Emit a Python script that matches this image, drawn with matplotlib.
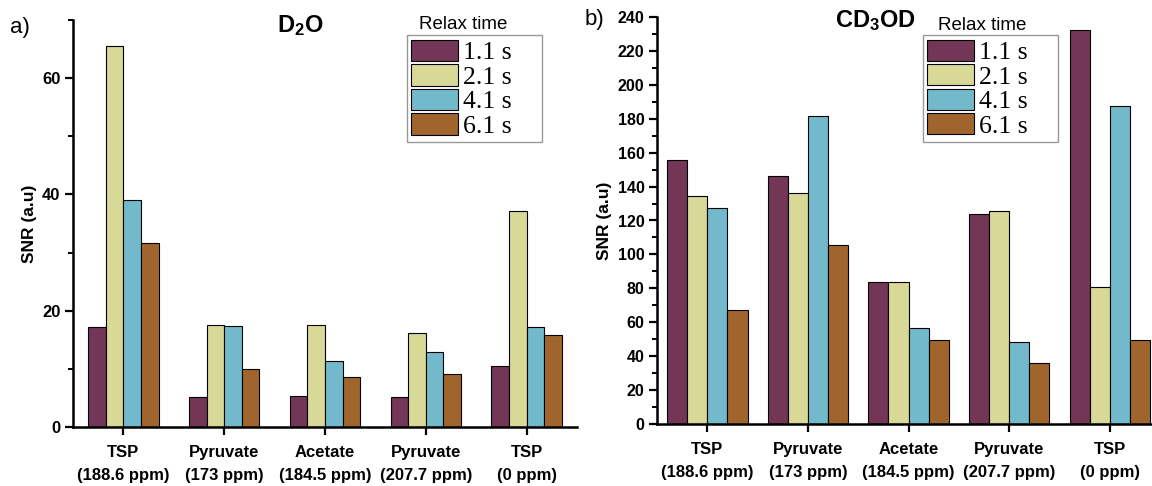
import matplotlib
matplotlib.use("Agg")
import matplotlib.pyplot as plt
import numpy as np

plt.rcParams['font.family'] = ['Liberation Sans', 'DejaVu Sans']
plt.rcParams['mathtext.fontset'] = 'custom'
plt.rcParams['mathtext.rm'] = 'Liberation Sans:bold'
plt.rcParams['mathtext.bf'] = 'Liberation Sans:bold'
plt.rcParams['mathtext.it'] = 'Liberation Sans:bold'

categories = ["TSP\n(188.6 ppm)", "Pyruvate\n(173 ppm)", "Acetate\n(184.5 ppm)",
              "Pyruvate\n(207.7 ppm)", "TSP\n(0 ppm)"]
relax_labels = ["1.1 s", "2.1 s", "4.1 s", "6.1 s"]
colors = ["#733656", "#d8d897", "#72b9cc", "#a0652c"]

# D2O panel
d2o_11 = [17.2, 5.1, 5.4, 5.1, 10.5]
d2o_21 = [65.6, 17.5, 17.5, 16.1, 37.2]
d2o_41 = [39.1, 17.4, 11.4, 12.9, 17.2]
d2o_61 = [31.7, 9.9, 8.6, 9.2, 15.9]

# CD3OD panel
cd3od_11 = [155.5, 146.5, 83.5, 124.0, 232.5]
cd3od_21 = [134.5, 136.5, 84.0, 125.5, 80.5]
cd3od_41 = [127.5, 181.5, 56.5, 48.2, 187.5]
cd3od_61 = [67.0, 105.5, 49.3, 36.2, 49.5]

W, H = 1152, 486
fig = plt.figure(figsize=(W / 100, H / 100), dpi=100)


def px_axes(x0, x1, ytop, ybot):
    return fig.add_axes([x0 / W, 1 - ybot / H, (x1 - x0) / W, (ybot - ytop) / H])


def draw_panel(ax, series, width, ylim, major, minor, tick_fs):
    x = np.arange(1, len(categories) + 1)
    handles = []
    for i, (vals, c) in enumerate(zip(series, colors)):
        b = ax.bar(x + (i - 1.5) * width, vals, width, color=c,
                   edgecolor="black", linewidth=0.8)
        handles.append(b)
    ax.set_ylim(*ylim)
    ax.set_yticks(np.arange(ylim[0], ylim[1] + 0.1, major))
    ax.set_yticks(np.arange(ylim[0], ylim[1] + 0.1, minor), minor=True)
    ax.set_xticks(x)
    ax.set_xticklabels(categories, fontsize=12, fontweight="bold", linespacing=1.65)
    for s in ["top", "right"]:
        ax.spines[s].set_visible(False)
    for s in ["left", "bottom"]:
        ax.spines[s].set_linewidth(1.8)
    ax.tick_params(axis="both", which="major", direction="out", length=6,
                   width=1.6, pad=3)
    ax.tick_params(axis="x", which="major", pad=7)
    ax.tick_params(axis="y", which="minor", direction="out", length=3.5, width=1.4)
    ax.tick_params(axis="x", which="minor", bottom=False)
    for lab in ax.get_yticklabels():
        lab.set_fontweight("bold")
        lab.set_fontsize(tick_fs)
    ax.set_ylabel("SNR (a.u)", fontsize=12.5, fontweight="bold", labelpad=4)
    return handles


# left panel
ax1 = px_axes(73, 577, 20, 427)
h1 = draw_panel(ax1, [d2o_11, d2o_21, d2o_41, d2o_61], 0.175, (0, 70), 20, 10, 12)
ax1.set_xlim(0.5, 5.5)

# right panel
ax2 = px_axes(657, 1152, 17, 424)
h2 = draw_panel(ax2, [cd3od_11, cd3od_21, cd3od_41, cd3od_61], 0.2, (0, 240), 20, 10, 11.5)
ax2.set_xlim(0.5, 5.42)


def add_legend(ax, handles, anchor, title_xy):
    # trailing spaces widen the box like in the original figure
    labels = [l + "    " for l in relax_labels]
    leg = ax.legend(handles, labels, loc="upper right", bbox_to_anchor=anchor,
                    borderaxespad=0, fancybox=False, frameon=True, edgecolor="#808080",
                    prop={"family": "Liberation Serif", "size": 18.5},
                    handlelength=1.8, handleheight=0.9, handletextpad=0.2,
                    labelspacing=0.0, borderpad=0.18)
    leg.get_frame().set_linewidth(1.0)
    ax.text(title_xy[0], title_xy[1], "Relax time", transform=ax.transAxes,
            fontsize=13.5, ha="left", va="center")


add_legend(ax1, h1, (0.9306, 0.963), (0.6865, 0.988))
add_legend(ax2, h2, (0.810, 0.956), (0.568, 0.980))

# panel titles and labels
fig.text(300 / W, 1 - 26 / H, r"D$_2$O", fontsize=17, fontweight="bold",
         ha="center", va="center")
fig.text(875 / W, 1 - 21 / H, r"CD$_3$OD", fontsize=17, fontweight="bold",
         ha="center", va="center")
fig.text(10 / W, 1 - 27 / H, "a)", fontsize=16, ha="left", va="center")
fig.text(585 / W, 1 - 20 / H, "b)", fontsize=16, ha="left", va="center")

fig.savefig("out.png", dpi=100)
